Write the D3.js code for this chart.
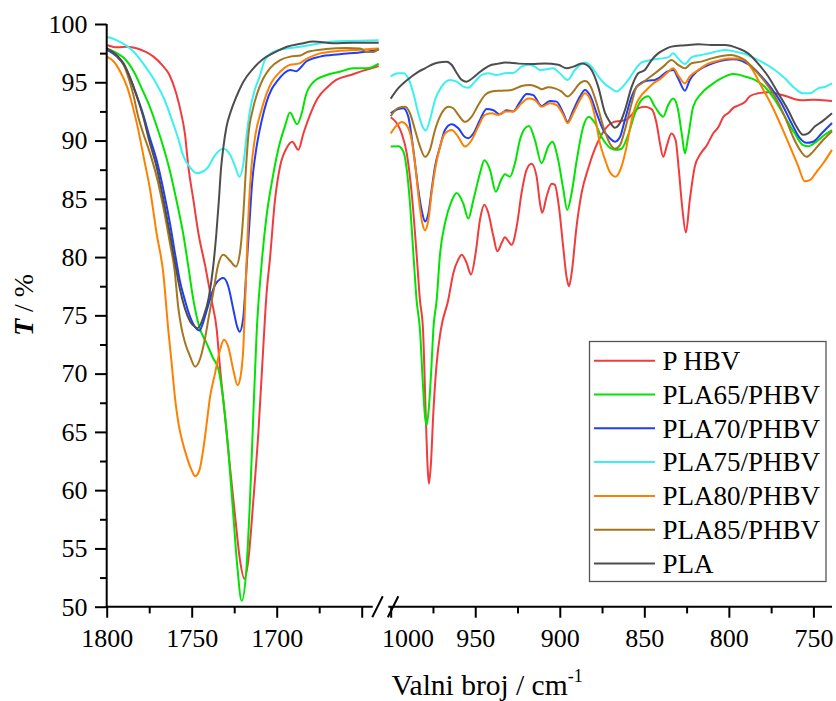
<!DOCTYPE html>
<html><head><meta charset="utf-8">
<script src="https://cdn.jsdelivr.net/npm/d3@7"></script>
<style>
body{margin:0;background:#fff}
svg{display:block}
</style>
</head><body><svg id="c" width="836" height="701"></svg>
<script>
// ---------- data ----------
const seriesNames = ["P HBV","PLA65/PHBV","PLA70/PHBV","PLA75/PHBV","PLA80/PHBV","PLA85/PHBV","PLA"];
const seriesColors = ["#F03C3C","#00E400","#1F3DFA","#3CF0F0","#FF8000","#A5761E","#4D4D4D"];

const yMajorTicks = [50,55,60,65,70,75,80,85,90,95,100];
const yMinorTicks = [52.5,57.5,62.5,67.5,72.5,77.5,82.5,87.5,92.5,97.5];
const leftMajorTicks = [1800,1750,1700,1650];
const leftMinorTicks = [1775,1725,1675];
const leftTickLabels = ["1800","1750","1700",""];
const rightMajorTicks = [1000,950,900,850,800,750];
const rightMinorTicks = [975,925,875,825,775];
const rightTickLabels = ["1000","950","900","850","800","750"];

// left panel spectra [wavenumber, T%]
const phbvLeft = [[1800,98.2],[1794,98.0],[1788,98.05],[1782,97.9],[1777,97.6],[1772.5,97.2],[1767.5,96.5],[1763,95.6],[1759,94.0],[1756,92.2],[1754,90.6],[1752,87.8],[1749,84.9],[1746,82.0],[1742,79.2],[1738.3,76.3],[1735.3,73.8],[1733.4,70.6],[1730.4,66.3],[1727.5,62.0],[1724.5,57.8],[1721.6,54.0],[1719,52.4],[1716.7,54.0],[1713.7,59.2],[1710.8,64.9],[1708,72.0],[1706,76.8],[1704,79.8],[1701,84.9],[1698,87.8],[1694,89.4],[1690.8,89.9],[1687.3,89.2],[1684.3,90.6],[1680.4,92.2],[1676,93.6],[1670,94.6],[1665,95.2],[1657,95.6],[1649,96.0],[1640,96.4]];
const pla65Left = [[1800,97.9],[1794,97.5],[1790,97.1],[1784,95.9],[1779.5,94.5],[1775.5,93.2],[1771,91.4],[1767,89.6],[1763,87.5],[1759,84.9],[1755,82.0],[1752,79.2],[1749,76.3],[1745.5,74.0],[1741.2,72.6],[1737.3,71.3],[1734.3,70.4],[1731.4,67.7],[1728.5,63.5],[1725.5,57.8],[1723.2,53.5],[1720.6,50.5],[1717.7,53.5],[1715.7,59.2],[1713.8,66.3],[1711.8,73.5],[1709,79.2],[1706,83.5],[1703,86.3],[1699,89.3],[1695,91.3],[1692.2,92.4],[1688,91.4],[1685,92.5],[1683,93.8],[1678.5,95.0],[1671,95.6],[1663,95.9],[1655,96.2],[1647,96.2],[1640,96.6]];
const pla70Left = [[1800,97.8],[1794,97.2],[1790,96.5],[1786,95.3],[1782.5,93.9],[1778.5,92.2],[1775,90.4],[1770.6,88.3],[1766.7,85.8],[1762.8,82.9],[1759.8,80.3],[1757,78.0],[1754,76.3],[1751,74.9],[1748,74.0],[1745.5,73.7],[1742,75.0],[1739,76.5],[1736.3,77.6],[1733.4,78.1],[1731.4,78.2],[1728.5,77.5],[1725.5,75.5],[1723.2,74.0],[1721.8,73.6],[1719.6,74.9],[1717.7,79.2],[1716,83.0],[1714.5,86.3],[1712,89.3],[1709,91.6],[1706,93.3],[1703,94.4],[1700,95.05],[1692,96.05],[1688.3,95.95],[1686.3,96.2],[1682.4,96.8],[1674.5,97.2],[1663,97.4],[1649,97.6],[1640,97.8]];
const pla75Left = [[1800,98.9],[1794,98.6],[1788,98.1],[1784,97.6],[1778,96.5],[1772,95.2],[1766,93.5],[1761,91.5],[1758,90.2],[1755,88.7],[1751,87.7],[1747,87.2],[1744,87.3],[1741,87.6],[1736,88.8],[1731.5,89.3],[1727.5,88.8],[1724.5,87.8],[1722,86.9],[1719.6,88.0],[1717.6,90.6],[1715.7,92.6],[1713,94.3],[1710,95.5],[1707,96.9],[1702,97.6],[1694,97.9],[1686,98.05],[1676,98.3],[1667,98.5],[1657,98.55],[1640,98.6]];
const pla80Left = [[1800,97.2],[1796,96.8],[1792,95.9],[1788,94.6],[1785,93.1],[1782,91.3],[1778,88.4],[1774.5,85.8],[1770.6,82.0],[1766.7,78.6],[1763.8,73.8],[1761.8,70.9],[1759.8,67.9],[1757.5,65.5],[1755.5,64.2],[1753,62.9],[1750,61.7],[1748,61.2],[1745.5,61.7],[1743.2,63.5],[1741.2,65.7],[1739.2,68.0],[1736.3,70.0],[1733.4,72.0],[1731,72.9],[1728.5,72.3],[1725.5,70.3],[1723,69.0],[1721.2,69.8],[1719.6,72.3],[1718.6,76.0],[1717.6,80.0],[1716.5,84.0],[1715,87.5],[1712.5,90.5],[1709,92.6],[1706,94.0],[1703,95.0],[1698,95.9],[1692,96.5],[1687,96.6],[1682,97.05],[1674,97.5],[1663,97.7],[1651,97.8],[1640,97.9]];
const pla85Left = [[1800,97.9],[1794,97.3],[1790,96.5],[1787,95.3],[1784.3,93.9],[1781.4,92.0],[1778.5,90.6],[1774.5,88.9],[1770.6,86.9],[1766.7,84.3],[1762.8,81.2],[1760,78.8],[1758,75.8],[1756,73.9],[1754,72.7],[1751,71.5],[1748,70.6],[1745,71.3],[1742.2,73.0],[1739.8,75.0],[1737.5,76.8],[1734.5,79.3],[1731.4,80.2],[1727.5,79.7],[1724,79.2],[1721.6,80.4],[1719.7,83.5],[1718,87.8],[1716.7,90.4],[1714,92.7],[1711.8,93.9],[1708,95.3],[1704,96.2],[1698,96.9],[1692,97.2],[1686,97.3],[1682,97.6],[1671,97.85],[1659,97.95],[1651,97.9],[1647,97.6],[1643,97.6],[1640,97.9]];
const plaLeft = [[1800,97.9],[1794,97.3],[1790,96.6],[1786,95.3],[1782.5,93.9],[1779,92.3],[1775,90.0],[1770.6,87.7],[1766.7,85.0],[1762.8,82.0],[1759.8,79.5],[1757,77.3],[1754,75.6],[1751,74.5],[1748,74.0],[1746.5,73.9],[1743,74.9],[1740,76.5],[1737.5,79.0],[1735.5,82.0],[1734,84.9],[1732.8,87.5],[1731.3,89.5],[1729.5,91.2],[1727,92.5],[1723.6,93.8],[1719.6,95.05],[1713.7,96.2],[1708,97.0],[1702,97.5],[1694,98.05],[1686,98.3],[1678.5,98.5],[1667,98.35],[1655,98.4],[1640,98.4]];

// right panel spectra [wavenumber, T%]
const phbvRight = [[1000,92.0],[996.5,91.5],[993.5,90.6],[990.5,88.9],[987.6,85.5],[984.7,80.3],[982.7,76.3],[980.9,73.8],[979.3,66.6],[978.1,61.8],[977.4,60.55],[976.2,62.3],[974.8,66.6],[972.8,70.9],[970.3,73.8],[966,76.3],[963,78.6],[960,79.8],[958,80.2],[955.1,79.5],[952.5,78.5],[949.8,80.3],[947.2,83.2],[944.6,84.5],[942.3,83.8],[939.3,81.8],[936.9,80.5],[934.4,81.2],[932.4,81.7],[930.1,81.3],[928.5,81.05],[925.5,82.6],[922.6,85.5],[919.6,87.5],[916.7,88.0],[913.7,86.9],[911.7,84.6],[910.4,83.8],[907.8,85.2],[904.8,86.3],[902.9,86.2],[900.5,84.3],[898,80.9],[896,78.3],[894.6,77.5],[893,78.6],[890.1,82.6],[887.1,85.5],[883.2,87.6],[879.2,89.3],[875.3,90.5],[871.3,91.3],[868,91.6],[863.5,91.7],[860.5,91.8],[857.5,92.2],[853.6,92.77],[849.7,92.9],[845.7,92.7],[842.8,91.5],[840.8,89.8],[838.8,88.6],[836.8,89.5],[834,90.6],[831.5,90.05],[829.6,87.5],[827.6,84.3],[825.4,82.1],[823.1,84.9],[820.1,87.8],[817,88.8],[813,89.6],[809.3,90.6],[806,91.2],[803.4,92.0],[800,92.4],[797.4,92.8],[794.5,93.0],[790.5,93.3],[787.6,93.8],[782.7,94.05],[776.7,94.15],[770.8,94.0],[765.9,93.8],[761,93.55],[757,93.45],[750,93.5],[744,93.45],[739,93.4]];
const pla65Right = [[1000,89.48],[995.5,89.5],[992.5,89.05],[990.5,87.5],[988.6,84.6],[986.6,80.3],[984.7,76.33],[982.7,73.76],[981.1,69.5],[979.7,66.3],[978.7,65.6],[977.2,67.5],[975.8,70.9],[974.8,73.76],[972.8,76.33],[970.8,80.3],[967.9,82.9],[964,84.8],[961,85.5],[957.1,84.6],[954.1,83.3],[951.1,84.9],[947.2,87.2],[944.6,88.3],[941.3,87.5],[937.8,85.6],[934.8,86.6],[932.4,87.1],[929.5,86.9],[926.5,88.05],[923.6,90.05],[920.6,91.05],[918.2,91.25],[914.7,90.05],[910.8,88.05],[906.8,89.5],[904.4,89.9],[900.9,88.3],[897.9,85.8],[895.6,84.05],[893,85.5],[890,88.3],[886.1,91.2],[882.8,92.05],[879.2,91.5],[875.3,90.3],[871.3,89.5],[867,89.2],[863.5,89.3],[859.5,90.5],[855.6,92.3],[851.6,93.5],[847.7,93.8],[843.7,92.9],[838.8,92.05],[835.9,93.05],[832.9,93.6],[830,92.6],[827.6,90.3],[826,88.9],[824.1,90.3],[821.1,92.9],[816.2,94.05],[810.2,94.8],[804.3,95.35],[797.4,95.7],[790.5,95.5],[784.6,95.2],[778.7,94.6],[772.8,93.5],[766.9,92.05],[761,90.6],[756.1,89.6],[753.1,89.5],[748.2,89.9],[743.3,90.5],[739,90.9]];
const pla70Right = [[1000,92.34],[995.5,92.7],[992.5,92.77],[989.6,92.05],[987.6,90.3],[985.6,88.05],[983.7,85.8],[981.3,83.76],[979.7,83.05],[977.7,83.76],[975.8,85.76],[973.8,87.76],[970.8,89.48],[967.9,90.9],[964,91.4],[960,91.05],[956.1,90.3],[954.1,90.2],[951.1,90.6],[947.2,91.77],[943.3,92.7],[939.3,92.6],[935.4,92.25],[931.5,92.6],[927.5,92.5],[923.6,93.3],[919.6,94.0],[915.7,93.9],[910.8,92.97],[905.8,93.4],[901.9,93.34],[897.9,92.34],[895.4,91.6],[892,92.6],[888.1,93.77],[885.1,94.34],[882.2,93.9],[878.2,92.34],[874.3,90.9],[870.4,90.2],[867.4,89.9],[864.4,90.3],[861.5,91.77],[857.5,93.77],[854.6,94.6],[851.6,94.97],[847.7,95.14],[843.7,95.2],[840.8,95.43],[836.8,95.9],[832.9,96.05],[830,95.34],[826,94.28],[823.1,95.2],[819.1,95.9],[814.2,96.34],[808.3,96.69],[802.4,96.91],[797.4,96.97],[792.5,96.85],[786.6,96.34],[780.7,95.5],[774.8,94.48],[768.9,93.2],[763,91.5],[758,90.2],[754.1,89.8],[750.2,89.9],[745.2,90.6],[739,91.5]];
const pla75Right = [[1000,95.5],[995.5,95.77],[992.5,95.77],[989.6,95.34],[986.6,94.05],[983.7,92.34],[980.7,91.05],[979.3,90.85],[976.8,91.77],[973.8,93.48],[969.9,94.63],[965,95.2],[961,95.05],[957.1,94.63],[954.1,94.54],[950.2,95.05],[946.2,95.63],[942.3,95.77],[937.4,95.63],[932.4,95.77],[927.5,95.8],[922.6,96.34],[918.6,96.5],[914.7,96.34],[911.7,96.05],[908.8,96.1],[903.9,96.2],[900,95.77],[895.4,95.2],[891.1,96.05],[885.1,96.69],[881.2,96.34],[877.3,95.5],[873.3,94.85],[869.4,94.45],[866.4,94.2],[863.5,94.5],[859.5,95.2],[855.6,96.05],[851.6,96.7],[847.7,96.86],[843.7,96.97],[839.8,97.05],[835.9,97.14],[832.9,97.48],[830,97.05],[826,96.57],[822.1,97.14],[816.2,97.34],[810.2,97.54],[802.4,97.77],[796.5,97.63],[790.5,97.43],[784.6,97.05],[778.7,96.6],[772.8,96.05],[766.9,95.34],[761,94.48],[756.1,94.05],[752.1,94.05],[747.2,94.48],[743.3,94.6],[739,94.9]];
const pla80Right = [[1000,90.6],[996.5,91.3],[993.5,91.6],[990.5,91.3],[987.6,90.05],[985.2,87.5],[983.3,84.9],[981.3,82.9],[979.7,82.3],[977.7,83.2],[975.8,85.5],[973.4,87.8],[970.8,89.5],[967.9,90.6],[964,90.9],[960,90.3],[956.1,89.48],[952.1,90.05],[948.2,91.2],[944.3,92.2],[940.3,92.34],[936.4,92.2],[932.4,92.5],[927.5,92.5],[922.6,93.2],[918.6,93.6],[914.7,93.48],[910.8,92.9],[905.8,93.2],[901.9,93.05],[897.9,92.2],[895.4,91.5],[892,92.34],[888.1,93.48],[885.1,94.05],[882.2,93.6],[879.2,92.05],[876.3,89.8],[873.3,88.4],[870.4,87.3],[867,86.9],[863.5,87.76],[860.5,89.48],[857.5,91.77],[854.6,93.2],[851.6,93.9],[848.7,94.34],[844.7,94.9],[840.8,95.26],[836.8,95.77],[832.9,96.2],[830,95.6],[826,94.9],[823.1,95.5],[818.1,96.05],[812.2,96.6],[806.3,96.86],[800.4,97.05],[795.5,97.05],[790.5,96.86],[786.6,96.2],[780.7,94.63],[774.8,93.05],[768.9,91.2],[763,89.2],[759,87.8],[755.1,86.5],[752.1,86.6],[748.2,87.3],[744.2,88.05],[739,89.2]];
const pla85Right = [[1000,92.1],[995.5,92.8],[991.5,92.9],[988.6,92.34],[985.6,90.9],[982.7,89.5],[979.7,88.6],[976.8,89.2],[973.8,90.9],[969.9,92.34],[965.9,92.9],[963,92.77],[960,92.2],[956.1,91.6],[952.1,92.05],[948.2,93.05],[944.3,93.9],[940.3,94.2],[934.4,94.28],[928.5,94.34],[922.6,94.68],[917.6,94.77],[912.7,94.54],[910.8,94.4],[906.8,94.57],[902.9,94.48],[898.9,94.2],[895.4,93.77],[892,94.2],[889.1,94.77],[885.1,95.1],[882.2,94.77],[878.2,93.2],[874.3,91.2],[870.4,89.75],[867.4,89.3],[864.4,89.6],[861.5,90.9],[857.5,93.2],[854.6,94.6],[851.6,94.9],[847.7,95.34],[843.7,95.77],[838.8,96.34],[833.9,96.91],[830,96.5],[826,96.2],[822.1,96.63],[816.2,96.77],[810.2,97.05],[804.3,97.25],[798.4,97.34],[794.5,97.2],[790.5,96.91],[784.6,96.05],[778.7,95.05],[772.8,93.77],[766.9,92.05],[762,90.3],[758,89.2],[754.1,88.6],[750.2,89.05],[745.2,89.9],[739,90.8]];
const plaRight = [[1000,93.6],[995.5,94.5],[991.5,95.05],[987.6,95.5],[983.7,95.9],[979.7,96.2],[975.8,96.5],[971.8,96.7],[966.9,96.77],[964,96.5],[961,95.8],[958,95.2],[955.1,95.05],[952.1,95.3],[948.2,95.77],[944.3,96.2],[940.3,96.5],[936.4,96.6],[932.4,96.7],[924.5,96.6],[916.7,96.57],[908.8,96.6],[900.9,96.5],[896,96.2],[892,96.34],[887.1,96.6],[884.1,96.5],[881.2,96.05],[877.3,94.63],[873.3,92.4],[870.4,91.6],[867.4,91.1],[864.4,91.5],[861.5,92.6],[857.5,94.6],[853.6,95.77],[849.7,96.05],[845.7,96.91],[841.8,97.48],[837.8,97.83],[833.9,98.06],[826,98.17],[818.1,98.26],[810.3,98.2],[802.4,98.2],[794.5,97.91],[788.6,97.48],[782.7,96.6],[776.7,95.5],[770.8,94.05],[764.9,92.6],[760,91.2],[756.1,90.5],[753.1,90.62],[749.2,91.2],[745.2,91.6],[739,92.34]];

const leftSpectra = [phbvLeft,pla65Left,pla70Left,pla75Left,pla80Left,pla85Left,plaLeft];
const rightSpectra = [phbvRight,pla65Right,pla70Right,pla75Right,pla80Right,pla85Right,plaRight];

// ---------- drawing ----------
const FONT = '"Liberation Serif"';
const svg = d3.select("#c");
const y = d3.scaleLinear().domain([50,100]).range([606.7,24]);
const xL = d3.scaleLinear().domain([1800,1640]).range([106.7,378.7]);
const xR = d3.scaleLinear().domain([1000,739]).range([390.7,832]);
const leftAxisEnd = 1643.5, rightAxisStart = 1001.4;

const lineL = d3.line().x(d=>xL(d[0])).y(d=>y(d[1])).curve(d3.curveMonotoneX);
const lineR = d3.line().x(d=>xR(d[0])).y(d=>y(d[1])).curve(d3.curveMonotoneX);

const plot = svg.append("g");
leftSpectra.forEach((s,i)=>{
  plot.append("path").attr("d",lineL(s)).attr("fill","none")
    .attr("stroke",seriesColors[i]).attr("stroke-width",2).attr("stroke-linejoin","round");
});
rightSpectra.forEach((s,i)=>{
  plot.append("path").attr("d",lineR(s)).attr("fill","none")
    .attr("stroke",seriesColors[i]).attr("stroke-width",2).attr("stroke-linejoin","round");
});

const tickFont = 26;
function styleAxis(g){
  g.attr("font-family",null);
  g.selectAll("line").attr("stroke","#000").attr("stroke-width",2);
  g.selectAll("path.domain").remove();
  g.selectAll("text").attr("font-size",tickFont).style("font-family",FONT).attr("fill","#000");
}

// Y axis
const yAx = svg.append("g").attr("transform","translate(106.7,0)");
yAx.call(d3.axisLeft(y).tickValues(yMajorTicks).tickSize(11.7).tickSizeOuter(0).tickPadding(7.5).tickFormat(d3.format("d")));
styleAxis(yAx);
const yAxMin = svg.append("g").attr("transform","translate(106.7,0)");
yAxMin.call(d3.axisLeft(y).tickValues(yMinorTicks).tickSize(6.7).tickSizeOuter(0).tickFormat(""));
styleAxis(yAxMin);
svg.append("line").attr("x1",106.7).attr("x2",106.7).attr("y1",y(100)).attr("y2",y(50)+1)
  .attr("stroke","#000").attr("stroke-width",2);

// X axes
const y0 = y(50);
function xAxis(scale, majors, labels, minors){
  const g = svg.append("g").attr("transform",`translate(0,${y0})`);
  g.call(d3.axisBottom(scale).tickValues(majors).tickSize(11).tickSizeOuter(0).tickPadding(10.5)
    .tickFormat((d,i)=>labels[i]));
  styleAxis(g);
  const gm = svg.append("g").attr("transform",`translate(0,${y0})`);
  gm.call(d3.axisBottom(scale).tickValues(minors).tickSize(6.7).tickSizeOuter(0).tickFormat(""));
  styleAxis(gm);
  return g;
}
xAxis(xL, leftMajorTicks, leftTickLabels, leftMinorTicks);
const gR = xAxis(xR, rightMajorTicks, rightTickLabels, rightMinorTicks);
gR.selectAll(".tick").filter(d=>d===1000).select("text").attr("dx",16.8);

svg.append("line").attr("x1",xL(1800)-1).attr("x2",xL(leftAxisEnd)).attr("y1",y0).attr("y2",y0)
  .attr("stroke","#000").attr("stroke-width",2);
svg.append("line").attr("x1",xR(rightAxisStart)).attr("x2",xR(739)).attr("y1",y0).attr("y2",y0)
  .attr("stroke","#000").attr("stroke-width",2);
// break marks
[xL(leftAxisEnd), xR(rightAxisStart)].forEach(bx=>{
  svg.append("line").attr("x1",bx-0.5).attr("y1",y0+10.5).attr("x2",bx+10).attr("y2",y0-10.5)
    .attr("stroke","#000").attr("stroke-width",2);
});

// axis titles
const xt = svg.append("text").attr("x",391.5).attr("y",695).attr("font-size",29.5).style("font-family",FONT);
xt.append("tspan").text("Valni broj / cm");
xt.append("tspan").attr("font-size",18).attr("dy",-13.5).text("-1");

const yt = svg.append("text").attr("transform","translate(33,305) rotate(-90)")
  .attr("text-anchor","middle").attr("font-size",28).style("font-family",FONT);
yt.append("tspan").attr("font-weight","bold").attr("font-style","italic").text("T");
yt.append("tspan").text(" / %");

// legend
const lg = svg.append("g");
lg.append("rect").attr("x",589.5).attr("y",341.5).attr("width",236.5).attr("height",240)
  .attr("fill","#fff").attr("stroke","#555").attr("stroke-width",1.3);
seriesNames.forEach((n,i)=>{
  const ry = 360.7 + i*33.8;
  lg.append("line").attr("x1",594).attr("x2",655).attr("y1",ry).attr("y2",ry)
    .attr("stroke",seriesColors[i]).attr("stroke-width",2);
  lg.append("text").attr("x",662.5).attr("y",ry+9.3).attr("font-size",27).style("font-family",FONT).text(n);
});
</script>
</body></html>
